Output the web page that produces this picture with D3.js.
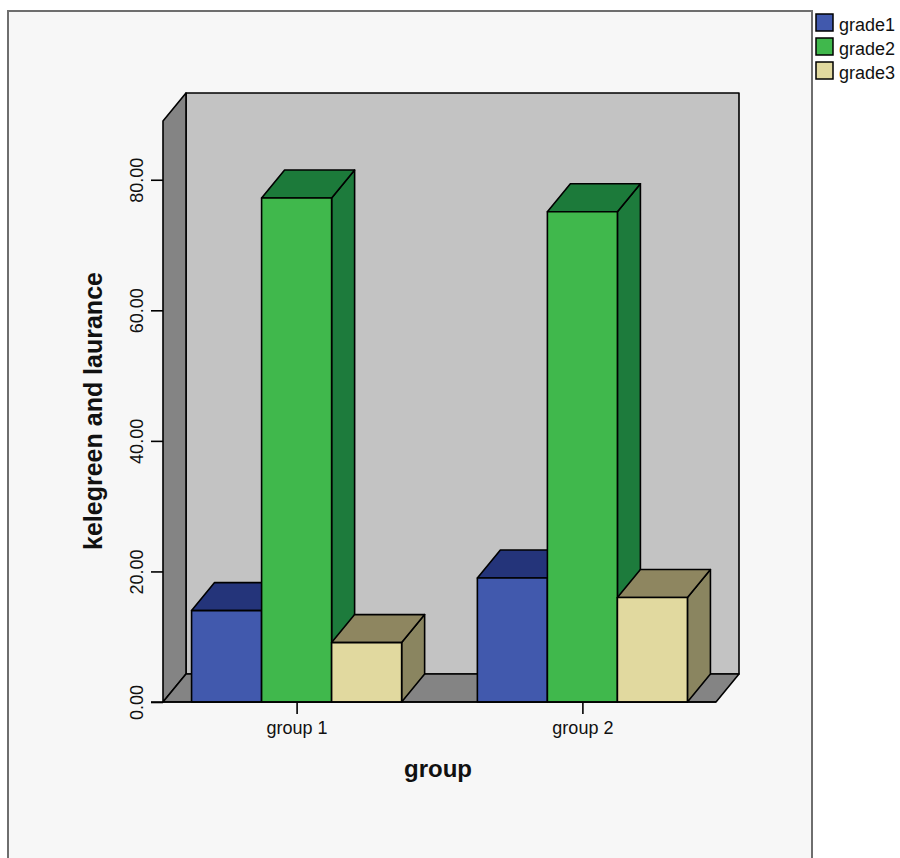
<!DOCTYPE html>
<html>
<head>
<meta charset="utf-8">
<script src="https://cdn.jsdelivr.net/npm/d3@7"></script>
<style>
  html, body { margin: 0; padding: 0; background: #ffffff; }
  svg { display: block; font-family: "Liberation Sans", Arial, sans-serif; }
</style>
</head>
<body>
<svg id="chart" width="900" height="858"></svg>
<script>
// Data
const groups = ["group 1", "group 2"];
const series = ["grade1", "grade2", "grade3"];
const grade1 = [14.0, 19.0];
const grade2 = [77.2, 75.1];
const grade3 = [9.1, 16.0];
const yTicks = [0, 20, 40, 60, 80];
const yMax = 89;

const values = { grade1, grade2, grade3 };

// Face colours per series: front, top, side
const faceColors = {
  grade1: { front: "#4159ad", top: "#24347a", side: "#1f2f6e" },
  grade2: { front: "#40b84c", top: "#1c7a3a", side: "#1d7b3c" },
  grade3: { front: "#e1d99f", top: "#8e8660", side: "#8a8560" }
};

const svg = d3.select("#chart");

// Outer frame
svg.append("rect")
  .attr("x", 8).attr("y", 11).attr("width", 804).attr("height", 900)
  .attr("fill", "#f7f7f7").attr("stroke", "#6e6e6e").attr("stroke-width", 2);

// Plot geometry (front plane) and depth offset for the 3-D look
const left = 163, right = 716;
const depthX = 23, depthY = 28;

const y = d3.scaleLinear().domain([0, yMax]).range([702, 121]);
const x0 = d3.scaleBand().domain(groups).range([left, right])
  .paddingInner(0.265).paddingOuter(0.1);
const x1 = d3.scaleBand().domain(series).range([0, x0.bandwidth()]);

const floorY = y(0), topY = y(yMax);
const edge = { stroke: "#000", "stroke-width": 1.6, "stroke-linejoin": "round" };
const poly = (pts) => "M" + pts.map(p => p.join(",")).join("L") + "Z";
function applyEdge(sel) { Object.entries(edge).forEach(([k, v]) => sel.attr(k, v)); return sel; }

const walls = svg.append("g");
// Back wall
applyEdge(walls.append("rect")
  .attr("x", left + depthX).attr("y", topY - depthY)
  .attr("width", right - left).attr("height", floorY - topY)
  .attr("fill", "#c3c3c3"));
// Left side wall
applyEdge(walls.append("path")
  .attr("d", poly([[left, topY], [left + depthX, topY - depthY],
                   [left + depthX, floorY - depthY], [left, floorY]]))
  .attr("fill", "#848484"));
// Floor
applyEdge(walls.append("path")
  .attr("d", poly([[left, floorY], [left + depthX, floorY - depthY],
                   [right + depthX, floorY - depthY], [right, floorY]]))
  .attr("fill", "#848484"));

// Bars, drawn left to right so nearer faces overlap correctly
const bars = svg.append("g");
groups.forEach((g, gi) => {
  series.forEach(s => {
    const v = values[s][gi];
    const bx = x0(g) + x1(s), bw = x1.bandwidth();
    const by = y(v);
    const c = faceColors[s];
    const bg = bars.append("g");
    // right side
    applyEdge(bg.append("path")
      .attr("d", poly([[bx + bw, by], [bx + bw + depthX, by - depthY],
                       [bx + bw + depthX, floorY - depthY], [bx + bw, floorY]]))
      .attr("fill", c.side));
    // top
    applyEdge(bg.append("path")
      .attr("d", poly([[bx, by], [bx + depthX, by - depthY],
                       [bx + bw + depthX, by - depthY], [bx + bw, by]]))
      .attr("fill", c.top));
    // front
    applyEdge(bg.append("rect")
      .attr("x", bx).attr("y", by).attr("width", bw).attr("height", floorY - by)
      .attr("fill", c.front));
  });
});

// Y axis
const yAxis = svg.append("g")
  .attr("transform", `translate(${left},0)`)
  .call(d3.axisLeft(y).tickValues(yTicks).tickSize(12).tickFormat(d3.format(".2f")));
yAxis.select(".domain").remove();
yAxis.selectAll(".tick line").attr("stroke", "#000").attr("stroke-width", 1.6);
yAxis.selectAll(".tick text")
  .attr("transform", "rotate(-90)")
  .attr("x", 0).attr("y", -20).attr("dy", 0)
  .attr("text-anchor", "middle")
  .attr("font-size", 18).attr("fill", "#111")
  .style("font-family", "'Liberation Sans', Arial, sans-serif");

// X axis
const xAxis = svg.append("g")
  .attr("transform", `translate(0,${floorY})`)
  .call(d3.axisBottom(d3.scalePoint().domain(groups)
      .range([x0(groups[0]) + x0.bandwidth() / 2, x0(groups[1]) + x0.bandwidth() / 2]))
    .tickSize(12).tickPadding(6));
xAxis.select(".domain").remove();
xAxis.selectAll(".tick line").attr("stroke", "#000").attr("stroke-width", 1.6);
xAxis.selectAll(".tick text")
  .attr("y", 32).attr("dy", 0)
  .attr("font-size", 18).attr("fill", "#111")
  .style("font-family", "'Liberation Sans', Arial, sans-serif");

// Baseline stub to the left of the floor (0 tick runs along the floor edge)
svg.append("line")
  .attr("x1", left - 12).attr("x2", right).attr("y1", floorY).attr("y2", floorY)
  .attr("stroke", "#000").attr("stroke-width", 1.6);

// Axis titles
svg.append("text")
  .attr("transform", `translate(102,411) rotate(-90)`)
  .attr("text-anchor", "middle")
  .attr("font-size", 25).attr("font-weight", "bold").attr("fill", "#111")
  .text("kelegreen and laurance");

svg.append("text")
  .attr("x", 438).attr("y", 777)
  .attr("text-anchor", "middle")
  .attr("font-size", 24).attr("font-weight", "bold").attr("fill", "#111")
  .text("group");

// Legend
const legend = svg.append("g").attr("transform", "translate(816,14)");
series.forEach((s, i) => {
  const row = legend.append("g").attr("transform", `translate(0,${i * 24})`);
  row.append("rect").attr("width", 17).attr("height", 17)
    .attr("fill", faceColors[s].front).attr("stroke", "#000").attr("stroke-width", 1.5);
  row.append("text").attr("x", 23).attr("y", 17)
    .attr("font-size", 18).attr("fill", "#111").text(s);
});
</script>
</body>
</html>
